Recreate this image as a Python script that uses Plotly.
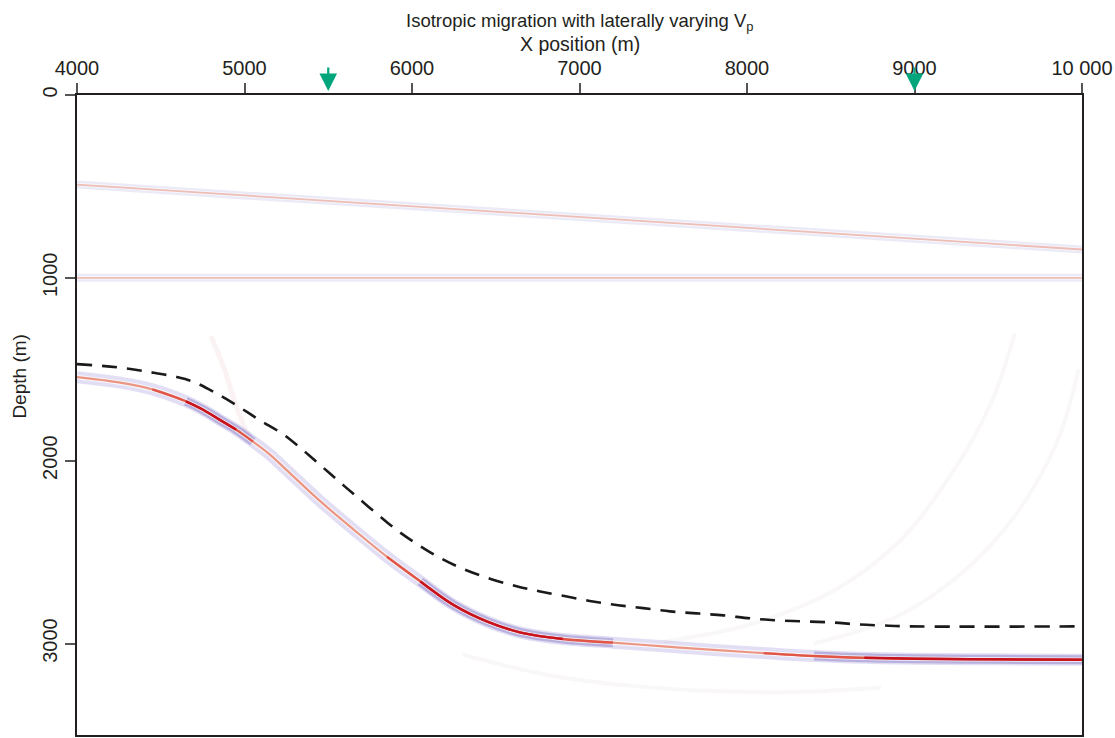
import plotly.graph_objects as go

# ---- reflector picks (x in m, depth in m) ----
DIP_X = [4000, 10000]
DIP_Z = [490, 845]

FLAT_X = [4000, 10000]
FLAT_Z = [1000, 1000]

BASE_X = [4000, 4250, 4450, 4650, 4750, 4850, 4950, 5050, 5150, 5250, 5450, 5650,
          5850, 6050, 6250, 6450, 6650, 6900, 7200, 7500, 7800, 8100, 8400, 8700,
          9000, 9500, 10000]
BASE_Z = [1543, 1572, 1610, 1675, 1720, 1775, 1830, 1895, 1965, 2050, 2220, 2375,
          2525, 2660, 2790, 2880, 2940, 2975, 2995, 3015, 3035, 3052, 3068, 3078,
          3083, 3086, 3088]
BASE_AMP = [0.35, 0.35, 0.45, 0.7, 0.95, 0.95, 0.8, 0.5, 0.4, 0.4, 0.4, 0.45,
            0.5, 0.6, 0.9, 1.0, 1.0, 0.8, 0.55, 0.5, 0.5, 0.55, 0.65, 0.8,
            0.9, 0.9, 0.9]

# velocity-model interface (dashed)
MODEL_X = [4000, 4240, 4440, 4600, 4700, 4840, 4970, 5090, 5230, 5340, 5450, 5560,
           5670, 5790, 5910, 6030, 6155, 6300, 6465, 6630, 6765, 6925, 7080, 7230,
           7380, 7540, 7700, 7860, 8020, 8180, 8340, 8500, 8660, 8810, 8970, 10000]
MODEL_Z = [1472, 1489, 1516, 1543, 1570, 1636, 1707, 1778, 1855, 1935, 2022, 2110,
           2197, 2290, 2380, 2456, 2525, 2590, 2645, 2688, 2715, 2743, 2770, 2790,
           2806, 2824, 2835, 2846, 2862, 2873, 2879, 2884, 2895, 2901, 2906, 2906]

# faint migration smiles
ARC1_X = [9600, 9450, 9200, 8900, 8500, 8000, 7500]
ARC1_Z = [1300, 1700, 2100, 2450, 2720, 2900, 2990]
ARC2_X = [9980, 9850, 9600, 9300, 8900, 8400]
ARC2_Z = [1500, 1900, 2300, 2600, 2850, 3000]
ARC3_X = [6300, 6800, 7300, 7800, 8300, 8800]
ARC3_Z = [3060, 3170, 3230, 3260, 3265, 3240]
STREAK_X = [4800, 4880, 4950, 5030]
STREAK_Z = [1320, 1500, 1700, 1880]

# source positions
SHOT_X = [5500, 9000]

X_TICKS = [4000, 5000, 6000, 7000, 8000, 9000, 10000]
X_TICKTEXT = ["4000", "5000", "6000", "7000", "8000", "9000", "10 000"]
Z_TICKS = [0, 1000, 2000, 3000]
Z_TICKTEXT = ["0", "1000", "2000", "3000"]

FONT = "Liberation Sans, Arial, Helvetica, sans-serif"
TEXT = "#231f20"

fig = go.Figure()


def add_line(x, z, color, width, dash=None, shape="spline"):
    fig.add_trace(go.Scatter(x=x, y=z, mode="lines",
                             line=dict(color=color, width=width, dash=dash,
                                       shape=shape, smoothing=1.0),
                             hoverinfo="skip", showlegend=False))


def runs(amp, threshold):
    """Index runs (start, end inclusive) where amplitude reaches threshold."""
    out, start = [], None
    for i, a in enumerate(amp):
        if a >= threshold and start is None:
            start = i
        if a < threshold and start is not None:
            out.append((max(start - 1, 0), i))
            start = None
    if start is not None:
        out.append((max(start - 1, 0), len(amp) - 1))
    return out


# faint artefacts
for ax_, az_ in [(ARC1_X, ARC1_Z), (ARC2_X, ARC2_Z), (ARC3_X, ARC3_Z)]:
    add_line(ax_, az_, "rgba(205,180,200,0.10)", 4)
add_line(STREAK_X, STREAK_Z, "rgba(225,160,160,0.12)", 5)

# shallow reflectors: blue halo with salmon core
for xs, zs in [(DIP_X, DIP_Z), (FLAT_X, FLAT_Z)]:
    add_line(xs, zs, "rgba(165,165,220,0.22)", 8, shape="linear")
    add_line(xs, zs, "rgba(255,255,255,0.6)", 3.5, shape="linear")
    add_line(xs, zs, "rgba(232,150,135,0.6)", 1.8, shape="linear")

# deep curved reflector: halo, then core shaded by amplitude
add_line(BASE_X, BASE_Z, "rgba(150,140,215,0.28)", 12)
for s, e in runs(BASE_AMP, 0.75):
    add_line(BASE_X[s:e + 1], BASE_Z[s:e + 1], "rgba(90,70,170,0.30)", 9)
add_line(BASE_X, BASE_Z, "rgba(255,255,255,0.7)", 4.5)
add_line(BASE_X, BASE_Z, "rgb(236,150,130)", 2.2)
for s, e in runs(BASE_AMP, 0.6):
    add_line(BASE_X[s:e + 1], BASE_Z[s:e + 1], "rgb(225,85,70)", 2.3)
for s, e in runs(BASE_AMP, 0.85):
    add_line(BASE_X[s:e + 1], BASE_Z[s:e + 1], "rgb(200,18,30)", 2.5)

# model interface
add_line(MODEL_X, MODEL_Z, "#1a1a1a", 2.6, dash="15px,10px")

annotations = [
    dict(text="Isotropic migration with laterally varying V<sub>p</sub>",
         xref="paper", yref="paper", x=0.5, y=1 + (95 - 22) / 642,
         xanchor="center", yanchor="middle", showarrow=False,
         font=dict(family=FONT, size=18.5, color=TEXT)),
    dict(text="X position (m)",
         xref="paper", yref="paper", x=0.5, y=1 + (95 - 44) / 642,
         xanchor="center", yanchor="middle", showarrow=False,
         font=dict(family=FONT, size=19.5, color=TEXT)),
    dict(text="Depth (m)", textangle=-90,
         xref="paper", yref="paper", x=-57 / 1005, y=0.56,
         xanchor="center", yanchor="middle", showarrow=False,
         font=dict(family=FONT, size=19, color=TEXT)),
]
for sx in SHOT_X:
    annotations.append(dict(
        x=sx, y=1 + 4 / 642, xref="x", yref="paper",
        ax=0, ay=-25, axref="pixel", ayref="pixel",
        text="", showarrow=True, arrowhead=2, arrowsize=1.6,
        arrowwidth=2.2, arrowcolor="#00a57c"))

fig.update_layout(
    width=1115, height=738,
    margin=dict(l=77, r=33, t=95, b=1),
    paper_bgcolor="white", plot_bgcolor="white",
    font=dict(family=FONT, size=20, color=TEXT),
    annotations=annotations,
    xaxis=dict(range=[4000, 10000], side="top", tickvals=X_TICKS, ticktext=X_TICKTEXT,
               ticks="outside", ticklen=10, tickwidth=1.5, tickcolor="#555",
               showline=True, linecolor="#231f20", linewidth=2, mirror=True,
               showgrid=False, zeroline=False,
               tickfont=dict(family=FONT, size=20, color=TEXT)),
    yaxis=dict(range=[3500, 0], tickvals=Z_TICKS, ticktext=Z_TICKTEXT, tickangle=-90,
               ticks="outside", ticklen=10, tickwidth=1.5, tickcolor="#555",
               showline=True, linecolor="#231f20", linewidth=2, mirror=True,
               showgrid=False, zeroline=False,
               tickfont=dict(family=FONT, size=20, color=TEXT)),
)

fig.write_html("out.html")
